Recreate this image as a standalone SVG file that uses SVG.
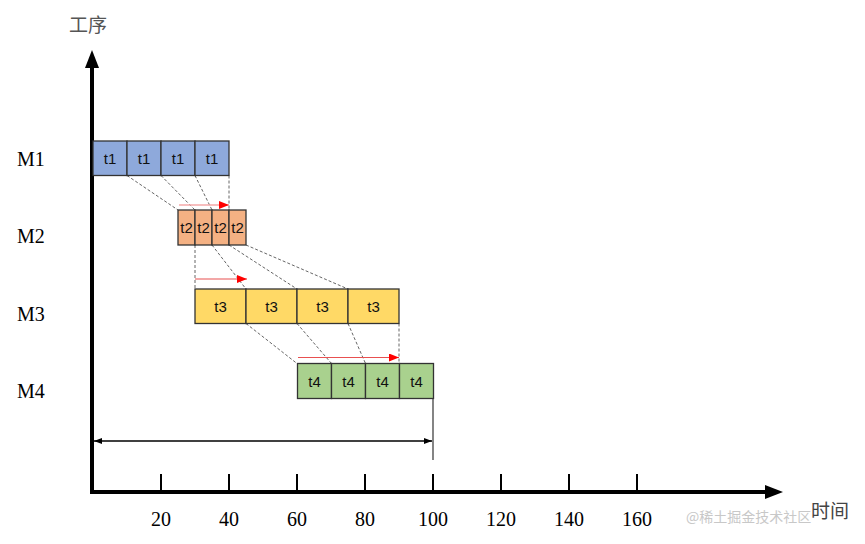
<svg xmlns="http://www.w3.org/2000/svg" width="865" height="544" viewBox="0 0 865 544">
<style>
.lbl{font-family:"Liberation Serif","Times New Roman",serif;font-size:20px;fill:#000}
.num{font-family:"Liberation Serif","Times New Roman",serif;font-size:20px;fill:#000;text-anchor:middle}
.cjk{font-family:"Noto Sans CJK SC","Noto Sans",sans-serif;font-size:19px;fill:#555}
.t{font-family:"Liberation Sans",Arial,sans-serif;font-size:15px;fill:#111;text-anchor:middle}
.b{stroke:#333;stroke-width:1.3}
.m1{fill:#8EA9DB}.m2{fill:#F4B183}.m3{fill:#FFD966}.m4{fill:#A9D18E}
.d{stroke:#555;stroke-width:0.9;stroke-dasharray:3,2;fill:none}
.r{stroke:#E85050;stroke-width:1.2;fill:none}
.tick{stroke:#000;stroke-width:2}
</style>
<defs>
<marker id="ah" markerWidth="10" markerHeight="8" refX="10" refY="4" orient="auto" markerUnits="userSpaceOnUse"><path d="M0,0 L10,4 L0,8 Z" fill="#f00"/></marker>
<marker id="bk" markerWidth="8" markerHeight="6" refX="8" refY="3" orient="auto-start-reverse" markerUnits="userSpaceOnUse"><path d="M0,0 L8,3 L0,6 Z" fill="#000"/></marker>
</defs>
<g id="axes">
<line x1="92" y1="493" x2="92" y2="66" stroke="#000" stroke-width="4"/>
<path d="M92,50 L85,68 L99,68 Z" fill="#000"/>
<line x1="90" y1="492" x2="768" y2="492" stroke="#000" stroke-width="4"/>
<path d="M783,492 L765,485 L765,499 Z" fill="#000"/>
<line class="tick" x1="161" y1="474" x2="161" y2="492"/>
<line class="tick" x1="229" y1="474" x2="229" y2="492"/>
<line class="tick" x1="297" y1="474" x2="297" y2="492"/>
<line class="tick" x1="365" y1="474" x2="365" y2="492"/>
<line class="tick" x1="433" y1="474" x2="433" y2="492"/>
<line class="tick" x1="501" y1="474" x2="501" y2="492"/>
<line class="tick" x1="569" y1="474" x2="569" y2="492"/>
<line class="tick" x1="637" y1="474" x2="637" y2="492"/>
<text class="num" x="161" y="526">20</text>
<text class="num" x="229" y="526">40</text>
<text class="num" x="297" y="526">60</text>
<text class="num" x="365" y="526">80</text>
<text class="num" x="433" y="526">100</text>
<text class="num" x="501" y="526">120</text>
<text class="num" x="569" y="526">140</text>
<text class="num" x="637" y="526">160</text>
<text class="cjk" x="69" y="32">工序</text>
<text style="font-family:'Noto Sans CJK SC',sans-serif;font-size:14px;fill:#c8c8c8" x="686" y="522">@稀土掘金技术社区</text>
<text class="cjk" x="811" y="518" style="fill:#444">时间</text>
<text class="lbl" x="17" y="166">M1</text>
<text class="lbl" x="17" y="243">M2</text>
<text class="lbl" x="17" y="321">M3</text>
<text class="lbl" x="17" y="398">M4</text>
</g>
<g id="connectors">
<line class="d" x1="127" y1="175.5" x2="178" y2="210"/>
<line class="d" x1="161" y1="175.5" x2="195" y2="210"/>
<line class="d" x1="195" y1="175.5" x2="212" y2="210"/>
<line class="d" x1="229" y1="175.5" x2="229" y2="210"/>
<line class="d" x1="195" y1="245" x2="195" y2="289"/>
<line class="d" x1="212" y1="245" x2="246" y2="289"/>
<line class="d" x1="229" y1="245" x2="297" y2="289"/>
<line class="d" x1="246" y1="245" x2="348" y2="289"/>
<line class="d" x1="246" y1="323.5" x2="297" y2="363.5"/>
<line class="d" x1="297" y1="323.5" x2="331.5" y2="363.5"/>
<line class="d" x1="348" y1="323.5" x2="365.5" y2="363.5"/>
<line class="d" x1="399" y1="323.5" x2="399" y2="363.5"/>
<line x1="179" y1="205" x2="229" y2="205" stroke="#F4A8A8" stroke-width="1.5" marker-end="url(#ah)"/>
<line class="r" x1="195" y1="279" x2="247" y2="279" marker-end="url(#ah)"/>
<line class="r" x1="298" y1="357.5" x2="399" y2="357.5" marker-end="url(#ah)"/>
<line x1="433" y1="398" x2="433" y2="460" stroke="#333" stroke-width="1.2"/>
<line x1="94" y1="441" x2="432" y2="441" stroke="#000" stroke-width="1.5" marker-start="url(#bk)" marker-end="url(#bk)"/>
</g>
<g id="M1row">
<rect class="b m1" x="93" y="141" width="34" height="34.5"/>
<rect class="b m1" x="127" y="141" width="34" height="34.5"/>
<rect class="b m1" x="161" y="141" width="34" height="34.5"/>
<rect class="b m1" x="195" y="141" width="34" height="34.5"/>
<text class="t" x="110" y="164">t1</text>
<text class="t" x="144" y="164">t1</text>
<text class="t" x="178" y="164">t1</text>
<text class="t" x="212" y="164">t1</text>
</g>
<g id="M2row">
<rect class="b m2" x="178" y="210" width="17" height="35"/>
<rect class="b m2" x="195" y="210" width="17" height="35"/>
<rect class="b m2" x="212" y="210" width="17" height="35"/>
<rect class="b m2" x="229" y="210" width="17" height="35"/>
<text class="t" x="186.5" y="233">t2</text>
<text class="t" x="203.5" y="233">t2</text>
<text class="t" x="220.5" y="233">t2</text>
<text class="t" x="237.5" y="233">t2</text>
</g>
<g id="M3row">
<rect class="b m3" x="195" y="289" width="51" height="34.5"/>
<rect class="b m3" x="246" y="289" width="51" height="34.5"/>
<rect class="b m3" x="297" y="289" width="51" height="34.5"/>
<rect class="b m3" x="348" y="289" width="51" height="34.5"/>
<text class="t" x="220.5" y="312">t3</text>
<text class="t" x="271.5" y="312">t3</text>
<text class="t" x="322.5" y="312">t3</text>
<text class="t" x="373.5" y="312">t3</text>
</g>
<g id="M4row">
<rect class="b m4" x="297.5" y="363.5" width="34" height="35"/>
<rect class="b m4" x="331.5" y="363.5" width="34" height="35"/>
<rect class="b m4" x="365.5" y="363.5" width="34" height="35"/>
<rect class="b m4" x="399.5" y="363.5" width="34" height="35"/>
<text class="t" x="314.5" y="387">t4</text>
<text class="t" x="348.5" y="387">t4</text>
<text class="t" x="382.5" y="387">t4</text>
<text class="t" x="416.5" y="387">t4</text>
</g>
</svg>
